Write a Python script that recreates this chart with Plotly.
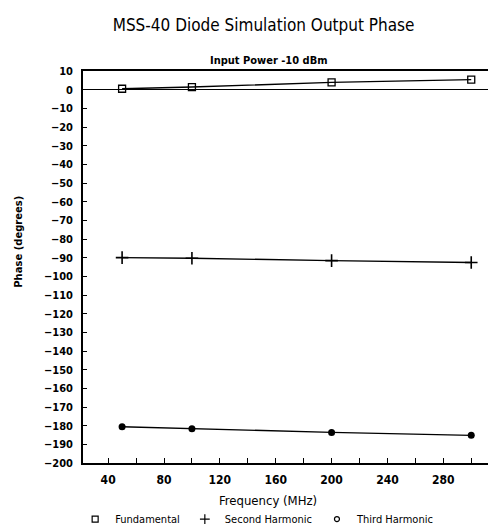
import plotly.graph_objects as go

# Frequency points (MHz)
freq_mhz = [50, 100, 200, 300]

# Output phase (degrees) for each harmonic at -10 dBm input power
fundamental = [0.5, 1.4, 3.9, 5.4]
second_harmonic = [-90.0, -90.3, -91.6, -92.6]
third_harmonic = [-180.6, -181.7, -183.6, -185.2]

# Axis ticks
x_tickvals = list(range(40, 301, 20))
x_ticktext = [str(v) if v % 40 == 0 and v < 300 else "" for v in x_tickvals]
y_tickvals = list(range(10, -201, -10))

FONT = "Liberation Sans Narrow, DejaVu Sans Condensed, Arial Narrow, sans-serif"

series = [
    ("Fundamental", fundamental, dict(symbol="square-open", size=7, line=dict(width=1.3, color="black")),
     dict(symbol="square-open", size=6, line=dict(width=1.2, color="black"))),
    ("Second Harmonic", second_harmonic, dict(symbol="cross-thin-open", size=9, line=dict(width=1.6, color="black")),
     dict(symbol="cross-thin-open", size=7, line=dict(width=1.2, color="black"))),
    ("Third Harmonic", third_harmonic, dict(symbol="circle", size=7, color="black"),
     dict(symbol="circle-open", size=5, line=dict(width=1.2, color="black"))),
]

fig = go.Figure()
for name, vals, mk, legend_mk in series:
    fig.add_trace(go.Scatter(
        x=freq_mhz, y=vals, mode="lines+markers", name=name,
        line=dict(color="black", width=1.4),
        marker=dict(color="black", **{k: v for k, v in mk.items() if k != "color"}),
        showlegend=False,
    ))
for name, vals, mk, legend_mk in series:
    fig.add_trace(go.Scatter(
        x=[None], y=[None], mode="markers", name=name,
        marker=dict(color="black", **legend_mk), showlegend=True,
    ))

fig.update_layout(
    width=490, height=531,
    margin=dict(l=83, r=2, t=71, b=68, autoexpand=False),
    paper_bgcolor="white", plot_bgcolor="white",
    font=dict(family=FONT, color="black"),
    title=dict(text="MSS-40 Diode Simulation Output Phase", x=0.538, xanchor="center",
               y=0.953, yanchor="middle", font=dict(size=17, family=FONT)),
    legend=dict(orientation="h", x=0.43, xanchor="center", y=-0.143, yanchor="middle",
                font=dict(size=11, family=FONT), itemwidth=30, bgcolor="rgba(0,0,0,0)",
                tracegroupgap=0),
    annotations=[
        dict(text="<b>Input Power -10 dBm</b>", xref="paper", yref="paper", x=0.46, y=1.0,
             xanchor="center", yanchor="bottom", yshift=2, showarrow=False,
             font=dict(size=11, family=FONT)),
        dict(text="<b>Phase (degrees)</b>", xref="paper", yref="paper", x=-0.16, y=0.565,
             xanchor="center", yanchor="middle", textangle=-90, showarrow=False,
             font=dict(size=10, family="DejaVu Sans, sans-serif", color="black")),
        dict(text="Frequency (MHz)", xref="paper", yref="paper", x=0.458, y=-0.095,
             xanchor="center", yanchor="middle", showarrow=False,
             font=dict(size=13, family=FONT)),
    ],
)

fig.update_xaxes(
    range=[22, 312], tickmode="array", tickvals=x_tickvals, ticktext=x_ticktext,
    ticks="inside", ticklen=5, tickwidth=1.2, tickcolor="black",
    showline=True, linecolor="black", linewidth=1.6, mirror=True,
    showgrid=False, zeroline=False, automargin=False,
    tickfont=dict(size=12, family=FONT, weight="bold"), ticklabelstandoff=5,
)
fig.update_yaxes(
    range=[-200, 10], tickmode="array", tickvals=y_tickvals,
    ticks="inside", ticklen=4, tickwidth=1.2, tickcolor="black",
    showline=True, linecolor="black", linewidth=1.6, mirror=False,
    showgrid=False, zeroline=True, zerolinecolor="black", zerolinewidth=1.4,
    automargin=False,
    tickfont=dict(size=11, family=FONT, weight="bold"), ticklabelstandoff=6,
)

fig.write_html("out.html")
